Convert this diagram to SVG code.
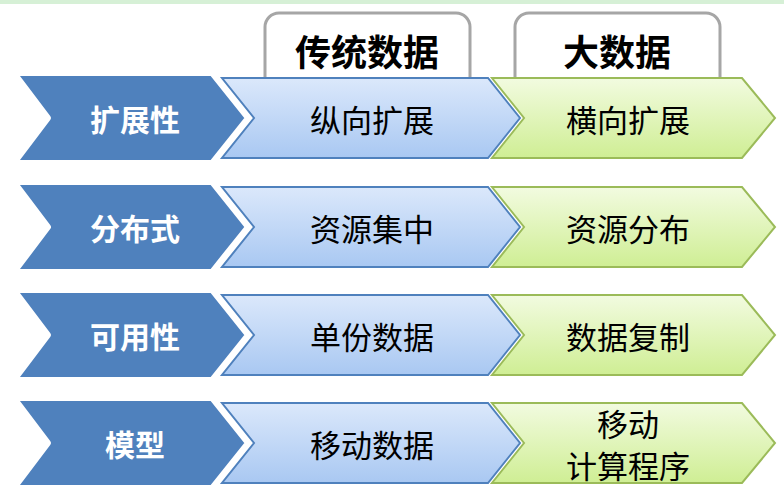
<svg xmlns="http://www.w3.org/2000/svg" width="784" height="500" viewBox="0 0 784 500">
<defs>
<linearGradient id="gb" x1="0" y1="0" x2="0" y2="1"><stop offset="0" stop-color="#dbe8fb"/><stop offset="1" stop-color="#a9c8f2"/></linearGradient>
<linearGradient id="gg" x1="0" y1="0" x2="0" y2="1"><stop offset="0" stop-color="#f2fbe0"/><stop offset="1" stop-color="#cfee94"/></linearGradient>
<path id="dk" d="M14,-45 L212,-45 L248,0 L212,45 L14,45 L48,0 Z"/>
<path id="bl" d="M222,-40 L488,-40 L520,0 L488,40 L222,40 L254,0 Z"/>
<path id="gr" d="M492,-40 L742,-40 L775,0 L742,40 L492,40 L524,0 Z"/>
</defs>
<style>
.dk{fill:#4f81bd;stroke:#fff;stroke-width:6;stroke-linejoin:round}
.bl{fill:url(#gb);stroke:#4f81bd;stroke-width:2}
.gr{fill:url(#gg);stroke:#9bbb59;stroke-width:2}
.hd{fill:#fff;stroke:#a6a6a6;stroke-width:3}
text{font-family:"Noto Sans CJK SC",sans-serif;text-anchor:middle;dominant-baseline:central}
.w{fill:#fff;font-size:30px;font-weight:bold}
.t{fill:#000;font-size:31px}
.h{fill:#000;font-size:36px;font-weight:bold}
</style>
<rect width="784" height="500" fill="#fff"/>
<line x1="0" y1="2" x2="784" y2="2" stroke="#d6f0d6" stroke-width="4"/>
<g id="hdr1"><rect class="hd" x="265" y="13" width="205" height="80" rx="14"/><text class="h" x="367" y="50">传统数据</text></g>
<g id="hdr2"><rect class="hd" x="515" y="13" width="205" height="80" rx="14"/><text class="h" x="617" y="50">大数据</text></g>
<g id="connectors"></g>
<g id="row1" transform="translate(0,118)"><use href="#dk" class="dk"/><use href="#bl" class="bl"/><use href="#gr" class="gr"/>
<text class="w" x="135" y="0">扩展性</text><text class="t" x="372" y="0">纵向扩展</text><text class="t" x="628" y="0">横向扩展</text></g>
<g id="row2" transform="translate(0,227)"><use href="#dk" class="dk"/><use href="#bl" class="bl"/><use href="#gr" class="gr"/>
<text class="w" x="135" y="0">分布式</text><text class="t" x="372" y="0">资源集中</text><text class="t" x="628" y="0">资源分布</text></g>
<g id="row3" transform="translate(0,335)"><use href="#dk" class="dk"/><use href="#bl" class="bl"/><use href="#gr" class="gr"/>
<text class="w" x="135" y="0">可用性</text><text class="t" x="372" y="0">单份数据</text><text class="t" x="628" y="0">数据复制</text></g>
<g id="row4" transform="translate(0,443)"><use href="#dk" class="dk"/><use href="#bl" class="bl"/><use href="#gr" class="gr"/>
<text class="w" x="135" y="0">模型</text><text class="t" x="372" y="0">移动数据</text><text class="t" x="628" y="-21">移动</text><text class="t" x="628" y="21">计算程序</text></g>
</svg>
